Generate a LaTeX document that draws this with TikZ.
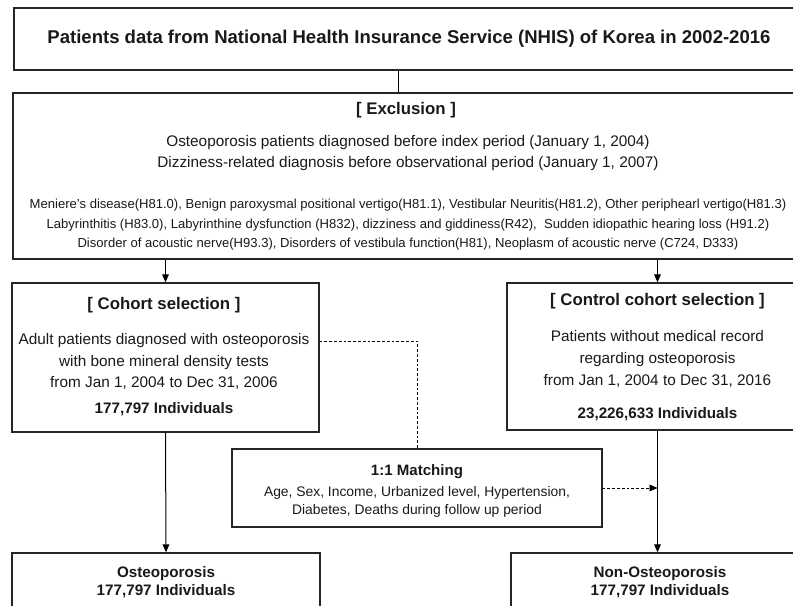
\documentclass[tikz,border=0pt]{standalone}
\usepackage{fontspec}
\setmainfont{Liberation Sans}
\usetikzlibrary{arrows.meta,positioning}

\tikzset{
  box/.style={draw=black!85, line width=1pt, inner sep=0pt},
  txt/.style={inner sep=0pt, align=center, text=black!90},
  hd/.style={txt, font=\fontsize{12.6}{15}\selectfont\bfseries},
  body/.style={txt, font=\fontsize{11.5}{16.2}\selectfont},
  link/.style={line width=0.75pt, -{Triangle[length=6pt,width=5pt]}},
  matchline/.style={line width=0.6pt, dash pattern=on 2pt off 1.6pt}
}

\begin{document}
\begin{tikzpicture}[x=0.75pt,y=-0.75pt]
%    \draw[gray!30, thin, step=50] (0,0) grid (793,606);
  \useasboundingbox (0,0) rectangle (793,606);
  \clip (0,0) rectangle (793,606);

  % boxes
  \node[box, minimum width=592.5pt, minimum height=46.5pt, txt,
        font=\fontsize{13.9}{16}\selectfont\bfseries] (data) at (409,39)
        {Patients data from National Health Insurance Service (NHIS) of Korea in 2002-2016};
  \node[box, minimum width=592.5pt, minimum height=124.5pt] (excl) at (408,176) {};
  \node[box, minimum width=230.25pt, minimum height=111.75pt] (cohort) at (165.5,357.5) {};
  \node[box, minimum width=225.75pt, minimum height=110.25pt] (ctrl) at (657.5,356.5) {};
  \node[box, minimum width=277.5pt, minimum height=58.5pt] (match) at (417,488) {};
  \node[box, minimum width=231pt, minimum height=80.25pt] (osteo) at (166,606.5) {};
  \node[box, minimum width=223.5pt, minimum height=80.25pt] (nonost) at (660,606.5) {};

  % exclusion
  \node[hd] (exclhd) at (406,110) {[ Exclusion ]};
  \node[txt, font=\fontsize{11.5}{15.6}\selectfont] (exclper) at (408,153)
    {Osteoporosis patients diagnosed before index period (January 1, 2004)\\
     Dizziness-related diagnosis before observational period (January 1, 2007)};
  \node[txt, font=\fontsize{9.8}{14.6}\selectfont] (excldx) at (408,225)
    {Meniere's disease(H81.0), Benign paroxysmal positional vertigo(H81.1), Vestibular Neuritis(H81.2), Other periphearl vertigo(H81.3)\\
     Labyrinthitis (H83.0), Labyrinthine dysfunction (H832), dizziness and giddiness(R42),\ \ Sudden idiopathic hearing loss (H91.2)\\
     Disorder of acoustic nerve(H93.3), Disorders of vestibula function(H81), Neoplasm of acoustic nerve (C724, D333)};

  % cohort
  \node[hd] (cohorthd) at (164,305) {[ Cohort selection ]};
  \node[body] (cohorttxt) at (164,361.5)
    {Adult patients diagnosed with osteoporosis\\ with bone mineral density tests\\ from Jan 1, 2004 to Dec 31, 2006};
  \node[hd, font=\fontsize{11.4}{14}\selectfont\bfseries] (cohortn) at (164,409) {177,797 Individuals};

  % control
  \node[hd] (ctrlhd) at (657.5,301) {[ Control cohort selection ]};
  \node[body, font=\fontsize{11.5}{16.5}\selectfont] (ctrltxt) at (657.5,359)
    {Patients without medical record\\ regarding osteoporosis\\ from Jan 1, 2004 to Dec 31, 2016};
  \node[hd, font=\fontsize{11.4}{14}\selectfont\bfseries] (ctrln) at (657.5,414) {23,226,633 Individuals};

  % matching
  \node[hd, font=\fontsize{11.3}{14}\selectfont\bfseries] (matchhd) at (417,472) {1:1 Matching};
  \node[txt, font=\fontsize{10.4}{13.6}\selectfont] (matchtxt) at (417,502)
    {Age, Sex, Income, Urbanized level, Hypertension,\\ Diabetes, Deaths during follow up period};

  % groups
  \node[hd, font=\fontsize{11.4}{13.5}\selectfont\bfseries] (osteotxt) at (166,582)
    {Osteoporosis\\ 177,797 Individuals};
  \node[hd, font=\fontsize{11.4}{13.5}\selectfont\bfseries] (nonosttxt) at (660,582)
    {Non-Osteoporosis\\ 177,797 Individuals};

  % connectors
  \draw[line width=0.75pt] ([xshift=-8pt]data.south) -- ([xshift=-8pt]data.south |- excl.north);
  \draw[link] (excl.south -| cohort.north) -- (cohort.north);
  \draw[link] (excl.south -| ctrl.north) -- (ctrl.north);
  \draw[link] (cohort.south) -- (osteo.north);
  \draw[link] (ctrl.south) -- (ctrl.south |- nonost.north);
  \draw[matchline] ([yshift=12.4pt]cohort.east) -| (match.north);
  \draw[matchline, -{Triangle[length=6pt,width=5pt]}] (match.east) -- (match.east -| ctrl.south);

\end{tikzpicture}
\end{document}
